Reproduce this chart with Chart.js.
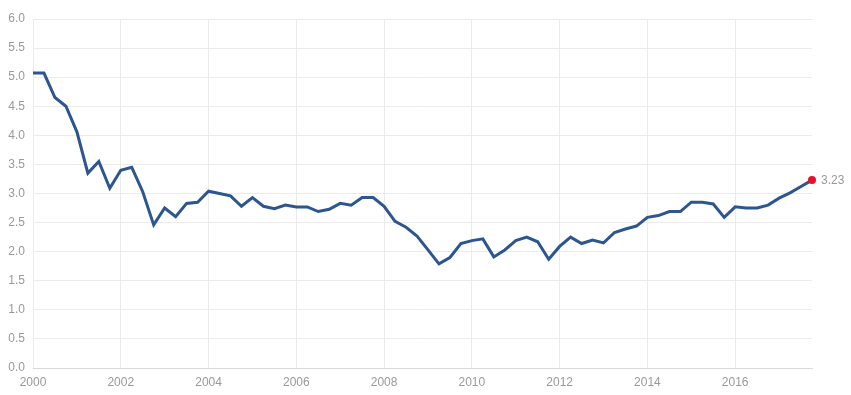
<!DOCTYPE html>
<html>
<head>
<meta charset="utf-8">
<script src="https://cdn.jsdelivr.net/npm/chart.js@4.4.1/dist/chart.umd.min.js"></script>
<style>
  html, body { margin: 0; padding: 0; background: #ffffff; }
  #wrap { width: 851px; height: 395px; position: relative; }
</style>
</head>
<body>
<div id="wrap"><canvas id="c"></canvas></div>
<script>
const quarters = [
  '2000Q1','2000Q2','2000Q3','2000Q4','2001Q1','2001Q2','2001Q3','2001Q4',
  '2002Q1','2002Q2','2002Q3','2002Q4','2003Q1','2003Q2','2003Q3','2003Q4',
  '2004Q1','2004Q2','2004Q3','2004Q4','2005Q1','2005Q2','2005Q3','2005Q4',
  '2006Q1','2006Q2','2006Q3','2006Q4','2007Q1','2007Q2','2007Q3','2007Q4',
  '2008Q1','2008Q2','2008Q3','2008Q4','2009Q1','2009Q2','2009Q3','2009Q4',
  '2010Q1','2010Q2','2010Q3','2010Q4','2011Q1','2011Q2','2011Q3','2011Q4',
  '2012Q1','2012Q2','2012Q3','2012Q4','2013Q1','2013Q2','2013Q3','2013Q4',
  '2014Q1','2014Q2','2014Q3','2014Q4','2015Q1','2015Q2','2015Q3','2015Q4',
  '2016Q1','2016Q2','2016Q3','2016Q4','2017Q1','2017Q2','2017Q3','2017Q4'
];
const values = [
  5.07, 5.07, 4.65, 4.50, 4.06, 3.35, 3.55, 3.09,
  3.40, 3.45, 3.03, 2.46, 2.75, 2.60, 2.83, 2.85,
  3.04, 3.00, 2.96, 2.78, 2.93, 2.78, 2.74, 2.80,
  2.77, 2.77, 2.69, 2.73, 2.83, 2.80, 2.93, 2.93,
  2.78, 2.52, 2.42, 2.27, 2.03, 1.79, 1.90, 2.14,
  2.19, 2.22, 1.91, 2.03, 2.19, 2.25, 2.17, 1.87,
  2.09, 2.25, 2.14, 2.20, 2.15, 2.33, 2.39, 2.44,
  2.59, 2.62, 2.69, 2.69, 2.85, 2.85, 2.82, 2.59,
  2.77, 2.75, 2.75, 2.80, 2.92, 3.01, 3.12, 3.23
];
const xTickLabels = [2000, 2002, 2004, 2006, 2008, 2010, 2012, 2014, 2016];
const yTickLabels = [0.0, 0.5, 1.0, 1.5, 2.0, 2.5, 3.0, 3.5, 4.0, 4.5, 5.0, 5.5, 6.0];

function quarterToNum(s) {
  const y = parseInt(s.slice(0, 4), 10);
  const q = parseInt(s.slice(5), 10);
  return y + (q - 1) / 4;
}
const points = quarters.map((q, i) => ({ x: quarterToNum(q), y: values[i] }));
const lastIdx = values.length - 1;

const lastLabel = {
  id: 'lastLabel',
  afterDatasetsDraw(chart) {
    const meta = chart.getDatasetMeta(0);
    const pt = meta.data[lastIdx];
    const ctx = chart.ctx;
    ctx.save();
    ctx.font = '12px "Liberation Sans", Arial, sans-serif';
    ctx.fillStyle = '#999999';
    ctx.textAlign = 'left';
    ctx.textBaseline = 'middle';
    ctx.fillText(values[lastIdx].toFixed(2), pt.x + 9, pt.y + 1);
    ctx.restore();
  }
};

const tickFont = { family: '"Liberation Sans", Arial, sans-serif', size: 12 };

new Chart(document.getElementById('c'), {
  type: 'line',
  data: {
    datasets: [{
      data: points,
      borderColor: '#2d5690',
      borderWidth: 3,
      tension: 0,
      fill: false,
      clip: false,
      pointRadius: values.map((v, i) => i === lastIdx ? 4 : 0),
      pointHoverRadius: 0,
      pointBackgroundColor: '#e8112d',
      pointBorderColor: '#e8112d',
      pointBorderWidth: 0
    }]
  },
  options: {
    responsive: true,
    maintainAspectRatio: false,
    animation: false,
    events: [],
    layout: { padding: { top: 19, right: 39, left: 0, bottom: 0 } },
    plugins: { legend: { display: false }, tooltip: { enabled: false } },
    scales: {
      x: {
        type: 'linear',
        min: quarterToNum(quarters[0]),
        max: quarterToNum(quarters[lastIdx]),
        afterBuildTicks(axis) { axis.ticks = xTickLabels.map(v => ({ value: v })); },
        afterFit(axis) { axis.height = 27; },
        grid: { color: '#ebebeb', drawTicks: false, lineWidth: 1 },
        border: { color: '#d9d9d9', width: 1 },
        ticks: {
          color: '#999999', font: tickFont, padding: 7, maxRotation: 0, autoSkip: false,
          callback: (v) => String(v)
        }
      },
      y: {
        min: yTickLabels[0],
        max: yTickLabels[yTickLabels.length - 1],
        afterBuildTicks(axis) { axis.ticks = yTickLabels.map(v => ({ value: v })); },
        afterFit(axis) { axis.width = 33; },
        grid: { color: '#ebebeb', drawTicks: false, lineWidth: 1 },
        border: { display: false },
        ticks: {
          color: '#999999', font: tickFont, padding: 8,
          callback: (v) => Number(v).toFixed(1)
        }
      }
    }
  },
  plugins: [lastLabel]
});
</script>
</body>
</html>
